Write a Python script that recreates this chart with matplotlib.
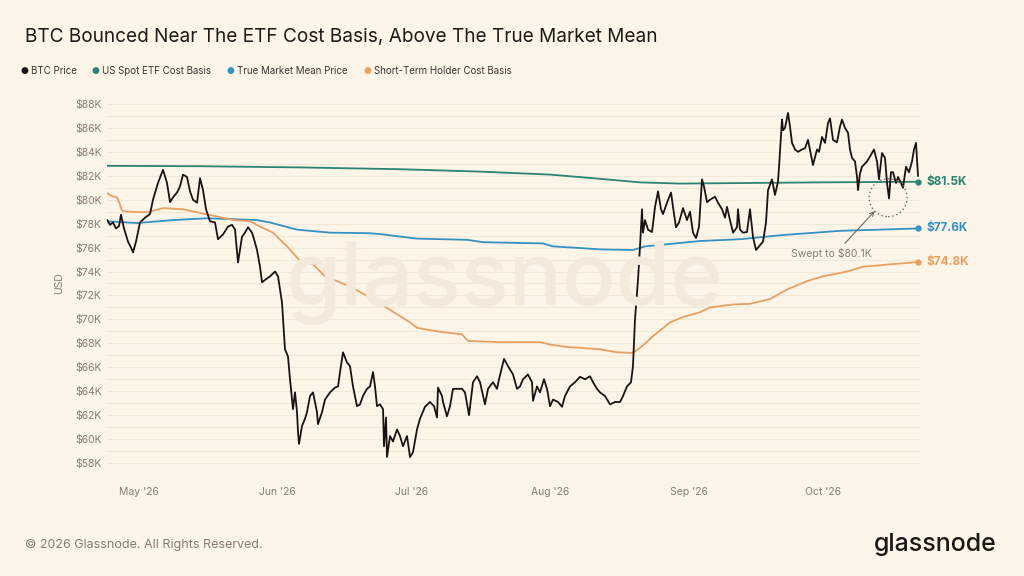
import matplotlib
matplotlib.use('Agg')
import matplotlib.pyplot as plt
import matplotlib.dates as mdates
from matplotlib.patches import Ellipse
import numpy as np
import pandas as pd

# ---------------- data ----------------
BASE_DATE = '2026-05-01'   # day offsets below are days from this date

btc_days = [
    -7.1, -6.49, -5.82, -5.15, -4.47, -4.03, -3.36, -2.46, -1.79, -1.34,
    -0.67, 0.22, 1.34, 2.46, 3.13, 4.25, 5.37, 6.26, 6.94, 7.61,
    8.50, 9.17, 9.84, 10.74, 11.41, 12.08, 12.98, 13.65, 14.32, 14.99,
    15.88, 17.00, 17.67, 18.79, 19.91, 20.81, 21.48, 22.15, 23.04, 23.71,
    24.38, 25.28, 25.73, 26.40, 27.07, 27.52, 28.19, 29.31, 30.43, 31.10,
    31.99, 32.66, 33.33, 33.78, 34.23, 34.45, 34.90, 35.35, 35.57, 35.79,
    36.47, 37.14, 37.58, 38.26, 38.93, 39.82, 40.04, 40.94, 41.61, 42.73,
    43.85, 44.52, 44.97, 45.64, 46.53, 47.20, 47.87, 48.77, 49.44, 50.11,
    51.01, 51.68, 52.35, 52.80, 53.24, 53.91, 54.59, 54.81, 55.26, 55.48,
    56.15, 56.82, 57.72, 58.39, 59.06, 59.96, 60.63, 61.30, 62.19, 62.86,
    63.98, 65.10, 66.00, 66.67, 66.89, 67.79, 68.01, 68.90, 69.57, 70.25,
    71.14, 72.26, 72.93, 73.83, 74.72, 75.62, 76.29, 77.40, 78.08, 79.19,
    80.09, 80.54, 81.66, 82.55, 83.67, 84.56, 85.23, 85.91, 87.02, 87.92,
    88.14, 89.04, 89.71, 90.60, 91.28, 91.95, 92.62, 93.74, 94.63, 95.30,
    96.42, 97.54, 98.66, 99.78, 100.89, 101.57, 102.46, 103.13, 104.25, 105.37,
    106.49, 107.61, 108.28, 109.17, 110.07, 110.51, 110.96, 111.63, 112.08, 112.53,
    112.75, 113.20, 113.87, 114.77, 115.44, 116.11, 116.78, 117.23, 118.12, 119.02,
    119.46, 120.13, 120.81, 121.70, 122.60, 123.27, 123.94, 124.61, 125.28, 125.95,
    126.40, 127.07, 127.74, 128.86, 129.53, 130.43, 131.10, 131.54, 132.21, 132.89,
    133.78, 134.00, 134.45, 135.12, 136.02, 136.69, 137.36, 138.03, 138.70, 139.60,
    140.27, 140.72, 141.61, 142.28, 142.95, 143.18, 143.85, 144.07, 144.52, 145.19,
    145.64, 146.09, 146.76, 147.43, 148.32, 148.99, 149.66, 150.56, 150.78, 151.68,
    152.13, 152.80, 153.47, 154.14, 154.59, 155.26, 156.15, 156.82, 157.27, 157.94,
    158.61, 159.06, 159.51, 160.18, 160.63, 160.85, 161.30, 161.74, 162.86, 163.53,
    164.43, 165.10, 165.55, 166.22, 166.89, 167.34, 167.79, 168.23, 168.68, 169.35,
    169.80, 170.47, 170.92, 171.59, 172.26, 172.93, 173.38, 173.83, 174.27,
]
btc_price_k = [
    78.3, 77.9, 78.1, 77.6, 77.8, 78.75, 77.6, 76.5, 76.0, 75.6,
    76.5, 78.1, 78.5, 78.8, 80.0, 81.4, 82.5, 81.4, 79.8, 80.2,
    80.6, 81.1, 82.1, 81.9, 80.7, 80.0, 79.75, 81.8, 80.8, 79.2,
    78.2, 78.1, 76.7, 77.1, 77.75, 77.9, 77.5, 74.75, 76.9, 77.25,
    77.7, 77.25, 76.7, 75.8, 74.4, 73.1, 73.3, 73.6, 74.0, 73.6,
    71.4, 67.5, 66.9, 65.0, 63.3, 62.5, 63.9, 62.25, 60.6, 59.6,
    61.1, 61.7, 62.25, 63.6, 63.9, 62.25, 61.25, 62.25, 63.3, 63.9,
    64.3, 64.4, 65.6, 67.25, 66.4, 66.1, 64.4, 62.75, 62.9, 63.6,
    64.2, 64.4, 65.6, 64.4, 62.75, 62.9, 62.5, 59.4, 61.8, 58.5,
    60.25, 59.8, 60.8, 60.25, 59.4, 60.25, 58.5, 58.9, 60.8, 61.7,
    62.7, 63.1, 62.75, 61.8, 64.3, 63.6, 63.1, 61.9, 62.75, 64.2,
    64.2, 64.2, 63.9, 62.0, 64.75, 65.25, 64.75, 62.9, 64.2, 64.75,
    64.2, 65.0, 66.7, 66.1, 65.4, 64.2, 64.4, 65.0, 65.4, 64.75,
    63.2, 64.4, 63.9, 65.0, 64.2, 62.75, 63.3, 63.1, 62.7, 63.6,
    64.4, 64.75, 65.2, 65.0, 65.25, 64.75, 64.2, 63.9, 63.6, 62.9,
    63.1, 63.1, 63.6, 64.4, 64.75, 66.1, 70.0, 73.3, 76.1, 79.2,
    77.25, 78.3, 77.5, 77.3, 79.4, 80.7, 79.2, 78.8, 79.75, 80.6,
    79.4, 77.7, 78.1, 79.3, 78.3, 79.0, 77.25, 76.8, 77.75, 81.7,
    81.1, 79.8, 80.0, 80.25, 79.75, 79.2, 78.5, 79.4, 78.3, 77.25,
    77.7, 79.2, 77.5, 77.25, 77.3, 79.2, 76.9, 75.8, 76.1, 76.5,
    78.1, 80.8, 81.7, 80.4, 81.5, 82.75, 86.7, 85.8, 86.0, 87.25,
    86.1, 84.75, 84.2, 84.0, 84.2, 84.3, 85.0, 83.3, 82.9, 84.2,
    84.0, 85.25, 84.75, 86.4, 86.8, 85.0, 84.8, 86.1, 86.7, 86.0,
    85.6, 84.2, 83.5, 83.2, 81.9, 80.8, 82.2, 82.75, 83.2, 83.6,
    84.2, 83.2, 81.7, 83.9, 83.5, 81.4, 80.1, 82.3, 82.3, 81.4,
    81.9, 81.4, 81.0, 82.75, 82.3, 83.2, 84.2, 84.75, 82.0,
]

etf_days = [-7.16, 13.65, 36.02, 58.39, 76.29, 91.95, 103.13, 112.08, 121.03, 136.69, 152.35, 174.27]
etf_cost_k = [82.83, 82.8, 82.7, 82.55, 82.35, 82.1, 81.75, 81.45, 81.35, 81.4, 81.45, 81.5]

tmm_days = [-7.16, -0.45, 7.61, 15.21, 22.60, 26.40, 29.31, 35.35, 42.73, 51.68, 54.59, 62.19,
            73.38, 76.96, 90.38, 92.62, 99.33, 103.13, 110.51, 113.20, 125.50, 134.45, 144.07,
            156.82, 174.27]
tmm_price_k = [78.2, 78.05, 78.3, 78.45, 78.35, 78.3, 78.1, 77.5, 77.25, 77.2, 77.1, 76.75,
               76.65, 76.45, 76.35, 76.1, 75.95, 75.85, 75.8, 76.1, 76.55, 76.7, 77.05,
               77.4, 77.6]

sth_days = [-7.16, -6.04, -4.92, -4.47, -3.80, -2.68, 1.79, 5.37, 9.84, 13.65, 17.45, 21.03,
            24.83, 27.07, 29.98, 33.11, 36.02, 38.93, 41.61, 44.30, 47.20, 52.35, 56.15, 60.63,
            62.19, 66.67, 72.26, 73.60, 80.76, 89.71, 91.95, 95.75, 103.13, 106.94, 110.51,
            112.53, 114.99, 118.79, 121.70, 125.50, 127.74, 132.89, 136.69, 141.16, 144.97,
            149.44, 153.02, 158.39, 161.97, 168.01, 174.27]
sth_cost_k = [80.55, 80.3, 80.2, 79.8, 79.1, 79.0, 78.95, 79.3, 79.2, 78.9, 78.6, 78.3,
              78.2, 77.75, 77.25, 76.1, 74.9, 74.6, 73.6, 73.2, 72.75, 71.7, 70.8, 69.75,
              69.3, 69.0, 68.75, 68.2, 68.1, 68.1, 67.9, 67.7, 67.5, 67.25, 67.2,
              67.75, 68.6, 69.75, 70.2, 70.6, 71.0, 71.25, 71.3, 71.7, 72.5,
              73.2, 73.6, 74.0, 74.4, 74.6, 74.8]

month_ticks = ['2026-05-01', '2026-06-01', '2026-07-01', '2026-08-01', '2026-09-01', '2026-10-01']
month_labels = ["May '26", "Jun '26", "Jul '26", "Aug '26", "Sep '26", "Oct '26"]
y_ticks_k = list(range(58, 89, 2))

sweep_day, sweep_low_k = 167.79, 80.1

series_names = ['BTC Price', 'US Spot ETF Cost Basis', 'True Market Mean Price',
                'Short-Term Holder Cost Basis']

# ---------------- style ----------------
BG = '#fdf5e8'
C_BTC = '#1b1313'
C_ETF = '#2a8374'
C_TMM = '#3591c2'
C_STH = '#e8a062'
C_GREY = '#857d75'
FONT = ['Inter', 'DejaVu Sans']
plt.rcParams['font.family'] = FONT

base = pd.Timestamp(BASE_DATE)


def to_dates(days):
    return base + pd.to_timedelta(np.asarray(days, dtype=float), unit='D')


fig = plt.figure(figsize=(10.24, 5.76), dpi=100, facecolor=BG)
ax = fig.add_axes([107 / 1024, 1 - 469 / 576, (920 - 107) / 1024, (469 - 98) / 576])
ax.set_facecolor(BG)

# watermark
fig.text(505 / 1024, 1 - 283 / 576, 'glassnode', fontsize=64, color='#f4eadb',
         ha='center', va='center', zorder=0, fontweight='medium')
ax.patch.set_alpha(0)

ax.plot(to_dates(etf_days), etf_cost_k, color=C_ETF, lw=1.3, zorder=3)
ax.plot(to_dates(tmm_days), tmm_price_k, color=C_TMM, lw=1.3, zorder=3)
ax.plot(to_dates(sth_days), sth_cost_k, color=C_STH, lw=1.3, zorder=3)
ax.plot(to_dates(btc_days), btc_price_k, color=C_BTC, lw=1.3, zorder=4)

# end markers & labels
for days, vals, col in [(etf_days, etf_cost_k, C_ETF), (tmm_days, tmm_price_k, C_TMM),
                        (sth_days, sth_cost_k, C_STH)]:
    xd = to_dates(days[-1:])[0]
    ax.plot([xd], [vals[-1]], 'o', color=col, ms=3.5, zorder=5, clip_on=False)
    ax.annotate(f'${vals[-1]:.1f}K', xy=(xd, vals[-1]), xytext=(6, 0),
                textcoords='offset points', va='center', ha='left',
                color=col, fontsize=8.5, fontweight='bold', annotation_clip=False)

# sweep circle & annotation
cx = mdates.date2num(to_dates([sweep_day - 0.2])[0])
circ = Ellipse((cx, sweep_low_k + 0.07), width=8.5, height=3.17, fill=False,
               ec='#6f6862', lw=1.0, ls=(0, (1, 2)), zorder=6)
ax.add_patch(circ)
ax.annotate('Swept to $80.1K',
            xy=(to_dates([sweep_day - 3.2])[0], sweep_low_k - 1.05),
            xytext=(to_dates([sweep_day - 13.0])[0], sweep_low_k - 4.6),
            ha='center', va='center', fontsize=7.5, color=C_GREY,
            arrowprops=dict(arrowstyle='->', color='#6f6862', lw=0.8,
                            shrinkA=2, shrinkB=0, relpos=(0.62, 1.0)),
            zorder=6)

# axes
ax.set_xlim(to_dates([-7.16])[0], to_dates([174.72])[0])
ax.set_ylim(57.5, 88.5)
ax.set_xticks(pd.to_datetime(month_ticks))
ax.set_xticklabels(month_labels)
ax.set_yticks(y_ticks_k)
ax.set_yticklabels([f'${v}K' for v in y_ticks_k])
ax.set_yticks([v + 1 for v in y_ticks_k[:-1]], minor=True)
ax.grid(axis='y', which='both', color='#f2e8d8', lw=0.8, zorder=1)
ax.set_axisbelow(True)
ax.tick_params(axis='both', which='both', length=0, colors=C_GREY, labelsize=7.5)
ax.tick_params(axis='x', pad=13)
ax.tick_params(axis='y', pad=4)
for s in ax.spines.values():
    s.set_visible(False)
ax.set_ylabel('USD', color=C_GREY, fontsize=7.5, labelpad=8)

# title
fig.text(25 / 1024, 1 - 37 / 576, 'BTC Bounced Near The ETF Cost Basis, Above The True Market Mean',
         fontsize=13.7, color='#1d1a18', ha='left', va='center')

# legend
leg_dot_x = [24, 95, 230, 367]
leg_cols = [C_BTC, C_ETF, C_TMM, C_STH]
for dx, col, name in zip(leg_dot_x, leg_cols, series_names):
    fig.text(dx / 1024, 1 - 71 / 576, '●', color=col, fontsize=6.5, ha='center', va='center',
             family=['DejaVu Sans'])
    fig.text((dx + 7) / 1024, 1 - 71 / 576, name, color='#3a3531', fontsize=7,
             ha='left', va='center')

# footer
fig.text(25 / 1024, 1 - 545 / 576, '© 2026 Glassnode. All Rights Reserved.', fontsize=9,
         color=C_GREY, ha='left', va='center')
fig.text(997 / 1024, 1 - 545 / 576, 'glassnode', fontsize=18, color='#1a1614',
         ha='right', va='center', fontweight='medium')

fig.savefig('out.png', dpi=100, facecolor=BG)
